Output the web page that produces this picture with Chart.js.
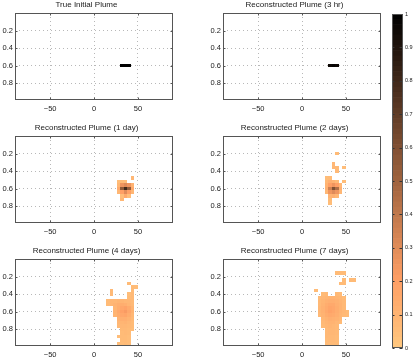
<html>
<head>
  <title>Plume reconstruction</title>
  <style type="text/css">
    body { margin: 0; background: #fff; }
    #container { position: relative; width: 415px; height: 361px; overflow: hidden; }
    #container canvas { position: absolute; }
  </style>
</head>
<body>
  <div id="container"></div>
  <script src="https://cdn.jsdelivr.net/npm/chart.js@4/dist/chart.umd.min.js"></script>
  <script>
    // grid spacing of the concentration cells (x in km-ish units, y in depth fraction)
    const CELL_W = 4;
    const CELL_H = 0.04;

    const xTicks = [-50, 0, 50];
    const yTicks = [0.2, 0.4, 0.6, 0.8];

    const titles = [
      'True Initial Plume', 'Reconstructed Plume (3 hr)',
      'Reconstructed Plume (1 day)', 'Reconstructed Plume (2 days)',
      'Reconstructed Plume (4 days)', 'Reconstructed Plume (7 days)'
    ];

    // each row: [y centre, x of first cell, concentrations of consecutive cells (null = empty)]
    const plumeInitial = [
      [0.60, 32, [1, 1, 1]]
    ];
    const plume3hr = [
      [0.60, 32, [0.96, 0.98, 0.96]]
    ];
    const plume1day = [
      [0.48, 44, [0.08]],
      [0.52, 28, [0.05, 0.06, 0.05]],
      [0.56, 28, [0.08, 0.25, 0.3, 0.25, 0.1]],
      [0.60, 28, [0.15, 0.55, 0.8, 0.55, 0.15]],
      [0.64, 28, [0.08, 0.2, 0.3, 0.2, 0.08]],
      [0.68, 32, [0.05, 0.15, 0.05]],
      [0.72, 32, [0.08]]
    ];
    const plume2days = [
      [0.20, 40, [0.06]],
      [0.32, 36, [0.08]],
      [0.36, 36, [0.08, 0.07, null, 0.05]],
      [0.40, 40, [0.07]],
      [0.48, 28, [0.05, 0.06]],
      [0.52, 28, [0.08, 0.12, 0.1, 0.06, null, 0.05]],
      [0.56, 28, [0.1, 0.2, 0.25, 0.2, 0.08]],
      [0.60, 28, [0.12, 0.35, 0.6, 0.45, 0.12]],
      [0.64, 28, [0.08, 0.25, 0.3, 0.25, 0.08]],
      [0.68, 32, [0.1, 0.12, 0.08]],
      [0.72, 32, [0.06]],
      [0.76, 32, [0.05]]
    ];
    const plume4days = [
      [0.28, 40, [0.06]],
      [0.32, 44, [0.06, 0.05]],
      [0.36, 20, [0.07, null, null, null, null, null, 0.06]],
      [0.40, 20, [0.07, null, null, null, null, 0.05, 0.07]],
      [0.44, 40, [0.06, 0.07]],
      [0.48, 16, [0.06, 0.08, 0.08, 0.09, 0.09, 0.08, 0.08, 0.07]],
      [0.52, 16, [0.06, 0.08, 0.1, 0.12, 0.13, 0.12, 0.09, 0.07]],
      [0.56, 24, [0.09, 0.13, 0.16, 0.18, 0.14, 0.09]],
      [0.60, 24, [0.1, 0.15, 0.19, 0.22, 0.16, 0.1]],
      [0.64, 24, [0.09, 0.13, 0.16, 0.17, 0.13, 0.08]],
      [0.68, 28, [0.1, 0.12, 0.12, 0.1, 0.07]],
      [0.72, 28, [0.08, 0.09, 0.1, 0.08, 0.06]],
      [0.76, 28, [0.07, 0.08, 0.08, 0.07, 0.06]],
      [0.80, 32, [0.07, 0.07, 0.06, 0.05]],
      [0.84, 32, [0.06, 0.07, 0.06]],
      [0.88, 28, [0.05, 0.06, 0.06, 0.05]],
      [0.92, 32, [0.06, 0.06, 0.05]],
      [0.96, 28, [0.05, 0.05, 0.06, 0.05]],
      [1.00, 32, [0.05, 0.05, 0.05]]
    ];
    const plume7days = [
      [0.16, 40, [0.06, 0.06, 0.06]],
      [0.24, 48, [0.06, null, 0.06, 0.06]],
      [0.28, 44, [0.06, 0.06]],
      [0.36, 16, [0.06]],
      [0.40, 24, [0.06, 0.07, null, null, 0.07, 0.06]],
      [0.44, 20, [0.06, 0.08, 0.09, 0.1, 0.1, 0.09, 0.08, 0.06]],
      [0.48, 20, [0.07, 0.09, 0.11, 0.12, 0.12, 0.11, 0.09, 0.07]],
      [0.52, 20, [0.07, 0.1, 0.13, 0.15, 0.15, 0.12, 0.1, 0.07]],
      [0.56, 20, [0.08, 0.11, 0.14, 0.17, 0.16, 0.13, 0.1, 0.07]],
      [0.60, 20, [0.08, 0.11, 0.15, 0.18, 0.16, 0.13, 0.1, 0.08, 0.06]],
      [0.64, 20, [0.07, 0.1, 0.13, 0.15, 0.14, 0.12, 0.09, 0.07, 0.06]],
      [0.68, 24, [0.08, 0.1, 0.12, 0.11, 0.1, 0.08]],
      [0.72, 24, [0.07, 0.09, 0.1, 0.1, 0.08, 0.06]],
      [0.76, 24, [0.06, 0.08, 0.09, 0.08, 0.07]],
      [0.80, 28, [0.07, 0.08, 0.08, 0.07]],
      [0.84, 28, [0.07, 0.08, 0.08, 0.07]],
      [0.88, 28, [0.07, 0.07, 0.07, 0.06]],
      [0.92, 28, [0.06, 0.07, 0.07, 0.06]],
      [0.96, 28, [0.06, 0.06, 0.06, 0.06]],
      [1.00, 28, [0.06, 0.06, 0.06, 0.06]]
    ];
    const plumes = [plumeInitial, plume3hr, plume1day, plume2days, plume4days, plume7days];

    const FONT = '"Liberation Sans", Arial, Helvetica, sans-serif';
    const TEXT = '#1a1a1a';
    const FRAME = '#555';
    const GRID = 'rgba(0,0,0,0.28)';

    // inverted "copper" colormap: 0 -> light orange, 1 -> black
    function plumeColor(v) {
      const t = 1 - v;
      const r = Math.round(255 * Math.min(1, 1.25 * t));
      const g = Math.round(255 * 0.7812 * t);
      const b = Math.round(255 * 0.4975 * t);
      return `rgb(${r},${g},${b})`;
    }

    function toPoints(rows) {
      const pts = [];
      rows.forEach(([y, x0, vals]) => vals.forEach((v, i) => {
        if (v != null) pts.push({x: x0 + i * CELL_W, y: y, v: v});
      }));
      return pts;
    }

    const cellPlugin = {
      id: 'cells',
      beforeDatasetsDraw(chart) {
        const {ctx, chartArea: a, scales: {x, y}} = chart;
        ctx.save();
        ctx.beginPath();
        ctx.rect(a.left, a.top, a.right - a.left, a.bottom - a.top);
        ctx.clip();
        chart.data.datasets[0].data.forEach(p => {
          const x0 = Math.round(x.getPixelForValue(p.x - CELL_W / 2));
          const x1 = Math.round(x.getPixelForValue(p.x + CELL_W / 2));
          const y0 = Math.round(y.getPixelForValue(p.y - CELL_H / 2));
          const y1 = Math.round(y.getPixelForValue(p.y + CELL_H / 2));
          ctx.fillStyle = plumeColor(p.v);
          ctx.fillRect(x0, Math.min(y0, y1), x1 - x0, Math.abs(y1 - y0));
        });
        ctx.restore();
      }
    };

    // box around the axes plus short inward ticks, matlab style
    const framePlugin = {
      id: 'frame',
      afterDraw(chart) {
        const {ctx, chartArea: a, scales: {x, y}} = chart;
        const l = Math.round(a.left) + 0.5, r = Math.round(a.right) - 0.5;
        const t = Math.round(a.top) + 0.5, b = Math.round(a.bottom) - 0.5;
        ctx.save();
        ctx.strokeStyle = FRAME;
        ctx.lineWidth = 1;
        ctx.beginPath();
        x.ticks.forEach(tk => {
          const px = Math.round(x.getPixelForValue(tk.value)) + 0.5;
          ctx.moveTo(px, b); ctx.lineTo(px, b - 2);
          ctx.moveTo(px, t); ctx.lineTo(px, t + 2);
        });
        y.ticks.forEach(tk => {
          const py = Math.round(y.getPixelForValue(tk.value)) + 0.5;
          ctx.moveTo(l, py); ctx.lineTo(l + 2, py);
          ctx.moveTo(r, py); ctx.lineTo(r - 2, py);
        });
        ctx.stroke();
        ctx.strokeRect(l, t, r - l, b - t);
        ctx.restore();
      }
    };

    const panelLefts = [15, 223];
    const panelTops = [13, 136, 259];
    const PANEL_W = 158, PANEL_H = 87;
    const Y_AXIS_W = 15, X_AXIS_H = 14, TITLE_H = 13, PAD_R = 4;

    function panelConfig(title, rows) {
      return {
        type: 'scatter',
        data: {datasets: [{data: toPoints(rows), pointRadius: 0, pointHoverRadius: 0}]},
        options: {
          responsive: false,
          animation: false,
          events: [],
          layout: {padding: {left: 0, right: PAD_R, top: 0, bottom: 0}},
          plugins: {
            legend: {display: false},
            tooltip: {enabled: false},
            title: {
              display: true,
              text: title,
              color: TEXT,
              font: {family: FONT, size: 8, weight: 'normal'},
              padding: {top: 0, bottom: 3.4}
            }
          },
          scales: {
            x: {
              type: 'linear', min: -90, max: 90,
              afterBuildTicks: s => { s.ticks = xTicks.map(v => ({value: v})); },
              afterFit: s => { s.height = X_AXIS_H; },
              grid: {color: GRID, drawTicks: false},
              border: {display: false, dash: [1, 3]},
              ticks: {
                color: TEXT, font: {family: FONT, size: 7.5}, padding: 4.5, maxRotation: 0,
                callback: v => String(v).replace('-', '\u2212')
              }
            },
            y: {
              type: 'linear', min: 0, max: 0.99, reverse: true,
              afterBuildTicks: s => { s.ticks = yTicks.map(v => ({value: v})); },
              afterFit: s => { s.width = Y_AXIS_W; },
              grid: {color: GRID, drawTicks: false},
              border: {display: false, dash: [1, 3]},
              ticks: {
                color: TEXT, font: {family: FONT, size: 7.5}, padding: 2,
                callback: v => v.toFixed(1)
              }
            }
          }
        },
        plugins: [cellPlugin, framePlugin]
      };
    }

    const container = document.getElementById('container');
    function addCanvas(left, top, width, height) {
      const c = document.createElement('canvas');
      c.width = width; c.height = height;
      c.style.left = left + 'px'; c.style.top = top + 'px';
      c.style.width = width + 'px'; c.style.height = height + 'px';
      container.appendChild(c);
      return c;
    }

    titles.forEach((title, i) => {
      const left = panelLefts[i % 2] - Y_AXIS_W;
      const top = panelTops[Math.floor(i / 2)] - TITLE_H;
      const cv = addCanvas(left, top, Y_AXIS_W + PANEL_W + PAD_R, TITLE_H + PANEL_H + X_AXIS_H);
      new Chart(cv, panelConfig(title, plumes[i]));
    });

    // colour bar: 64 stacked levels of the same colormap
    const CB_LEVELS = 64;
    const cbDatasets = [];
    for (let i = 0; i < CB_LEVELS; i++) {
      cbDatasets.push({
        data: [1 / CB_LEVELS],
        backgroundColor: plumeColor((i + 0.5) / CB_LEVELS),
        borderWidth: 0,
        barPercentage: 1,
        categoryPercentage: 1
      });
    }
    const cbTickPlugin = {
      id: 'cbticks',
      afterDraw(chart) {
        const {ctx, chartArea: a, scales: {y}} = chart;
        const l = Math.round(a.left) + 0.5, r = Math.round(a.right) - 0.5;
        const t = Math.round(a.top) + 0.5, b = Math.round(a.bottom) - 0.5;
        ctx.save();
        ctx.strokeStyle = '#333';
        ctx.lineWidth = 1;
        ctx.beginPath();
        y.ticks.forEach(tk => {
          const py = Math.round(y.getPixelForValue(tk.value)) + 0.5;
          ctx.moveTo(r, py); ctx.lineTo(r - 3, py);
          ctx.moveTo(l, py); ctx.lineTo(l + 2, py);
        });
        ctx.stroke();
        ctx.strokeStyle = FRAME;
        ctx.strokeRect(l, t, r - l, b - t);
        ctx.restore();
      }
    };
    const cbCanvas = addCanvas(378, 0, 37, 361);
    new Chart(cbCanvas, {
      type: 'bar',
      data: {labels: [''], datasets: cbDatasets},
      options: {
        responsive: false,
        animation: false,
        events: [],
        layout: {padding: {left: 14, right: 0, top: 14, bottom: 13}},
        plugins: {legend: {display: false}, tooltip: {enabled: false}},
        scales: {
          x: {stacked: true, display: false},
          y: {
            stacked: true, position: 'right', min: 0, max: 1,
            afterFit: s => { s.width = 12; },
            grid: {display: false, drawTicks: false},
            border: {display: false},
            ticks: {
              stepSize: 0.1, color: TEXT, padding: 2, font: {family: FONT, size: 5.5},
              callback: v => (v === 0 || v === 1) ? String(v) : v.toFixed(1)
            }
          }
        }
      },
      plugins: [cbTickPlugin]
    });
  </script>
</body>
</html>
